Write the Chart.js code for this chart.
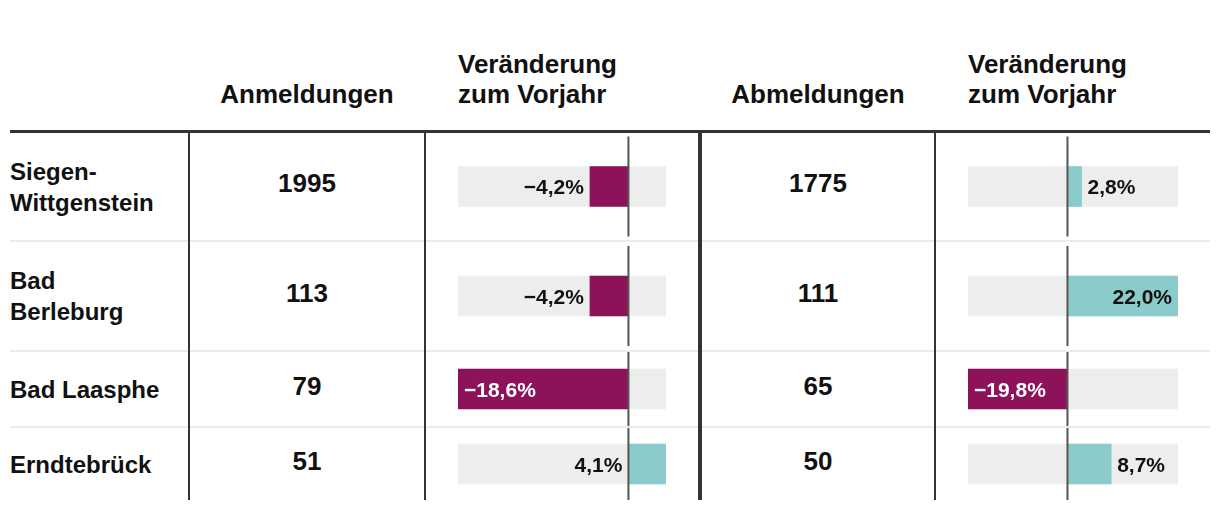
<!DOCTYPE html>
<html>
<head>
<meta charset="utf-8">
<script src="https://cdn.jsdelivr.net/npm/chart.js"></script>
<style>
body{margin:0;background:#fff;}
#wrap{position:relative;width:1220px;height:512px;overflow:hidden;font-family:"Liberation Sans",Arial,sans-serif;font-weight:bold;color:#111;}
.abs{position:absolute;}
.head{font-size:26px;line-height:30px;}
.label{font-size:24px;line-height:31px;left:10px;width:175px;display:flex;align-items:center;white-space:pre-line;}
.num{font-size:26px;display:flex;align-items:center;justify-content:center;}
.hline{background:#ebebeb;height:2px;left:10px;width:1200px;}
.vline{background:#333;top:133px;height:367px;}
</style>
</head>
<body>
<div id="wrap">
  <div class="abs head" style="left:190px;width:234px;top:79px;text-align:center">Anmeldungen</div>
  <div class="abs head" style="left:458px;top:49px">Veränderung<br>zum Vorjahr</div>
  <div class="abs head" style="left:702px;width:232px;top:79px;text-align:center">Abmeldungen</div>
  <div class="abs head" style="left:968px;top:49px">Veränderung<br>zum Vorjahr</div>
  <div class="abs" style="left:10px;top:130px;width:1200px;height:3px;background:#333"></div>
</div>

<script>
// Daten
const regions=['Siegen-\nWittgenstein','Bad\nBerleburg','Bad Laasphe','Erndtebrück']
const anmeldungen=[1995,113,79,51]
const anmeldungenChange=[-4.2,-4.2,-18.6,4.1]
const abmeldungen=[1775,111,65,50]
const abmeldungenChange=[2.8,22.0,-19.8,8.7]

// Layout
const rowTop=[133,242,352,428]
const rowH=[107,108,74,72]
const purple='#8e125a'
const teal='#8ccbcb'
const grey='#ededed'

const wrap=document.getElementById('wrap')

function addDiv(cls,style,text){
let d=document.createElement('div')
d.className='abs '+cls
d.style.cssText=style
if(text!==undefined) d.textContent=text
wrap.appendChild(d)
return d
}

function fmt(v){
return (v<0?'\u2212':'')+Math.abs(v).toFixed(1).replace('.',',')+'%'
}

/* zero line + value label */
const barLabels={
id:'barLabels',
afterDatasetsDraw(chart){
const ctx=chart.ctx
const xs=chart.scales.x
const area=chart.chartArea
const bar=chart.getDatasetMeta(0).data[0]
const v=chart.data.datasets[0].data[0][1]
const x0=xs.getPixelForValue(0)
const px=xs.getPixelForValue(v)

ctx.save()
ctx.strokeStyle='#555'
ctx.lineWidth=2
ctx.beginPath()
ctx.moveTo(x0,bar.y-50)
ctx.lineTo(x0,bar.y+50)
ctx.stroke()

ctx.font='bold 21px "Liberation Sans", Arial, sans-serif'
ctx.textBaseline='middle'
const txt=fmt(v)
const w=ctx.measureText(txt).width
const pad=6
let tx,align,col='#111'
if(v<0){
if(px-area.left>=w+2*pad){tx=px-pad;align='right'}
else if(x0-px>=w+2*pad){tx=px+pad;align='left';col='#fff'}
else{tx=x0+pad;align='left'}
}else{
if(area.right-px>=w+2*pad){tx=px+pad;align='left'}
else if(px-x0>=w+2*pad){tx=px-pad;align='right'}
else{tx=x0-pad;align='right'}
}
ctx.textAlign=align
ctx.fillStyle=col
ctx.fillText(txt,tx,bar.y+2)
ctx.restore()
}
}

function barChart(left,width,top,height,v,min,max){
let c=document.createElement('canvas')
c.width=width
c.height=height
c.className='abs'
c.style.left=left+'px'
c.style.top=top+'px'
wrap.appendChild(c)
new Chart(c.getContext('2d'),{
type:'bar',
data:{
labels:[''],
datasets:[
{data:[[0,v]],backgroundColor:v<0?purple:teal,barThickness:40,grouped:false,borderWidth:0},
{data:[[min,max]],backgroundColor:grey,barThickness:40,grouped:false,borderWidth:0}
]
},
options:{
indexAxis:'y',
responsive:false,
animation:false,
events:[],
layout:{padding:0},
scales:{
x:{display:false,min:min,max:max},
y:{display:false}
},
plugins:{legend:{display:false},tooltip:{enabled:false}}
},
plugins:[barLabels]
})
}

const minL=Math.min(...anmeldungenChange),maxL=Math.max(...anmeldungenChange)
const minR=Math.min(...abmeldungenChange),maxR=Math.max(...abmeldungenChange)

regions.forEach((name,i)=>{
let t=rowTop[i],h=rowH[i]
addDiv('label','top:'+t+'px;height:'+h+'px',name)
addDiv('num','left:190px;width:234px;top:'+(t-3)+'px;height:'+h+'px',String(anmeldungen[i]))
addDiv('num','left:702px;width:232px;top:'+(t-3)+'px;height:'+h+'px',String(abmeldungen[i]))
barChart(458,208,t,h,anmeldungenChange[i],minL,maxL)
barChart(968,210,t,h,abmeldungenChange[i],minR,maxR)
if(i>0) addDiv('hline','top:'+(t-2)+'px')
})

// Spaltenlinien
addDiv('vline','left:188px;width:2px')
addDiv('vline','left:424px;width:2px')
addDiv('vline','left:698px;width:4px')
addDiv('vline','left:934px;width:2px')
</script>
</body>
</html>
